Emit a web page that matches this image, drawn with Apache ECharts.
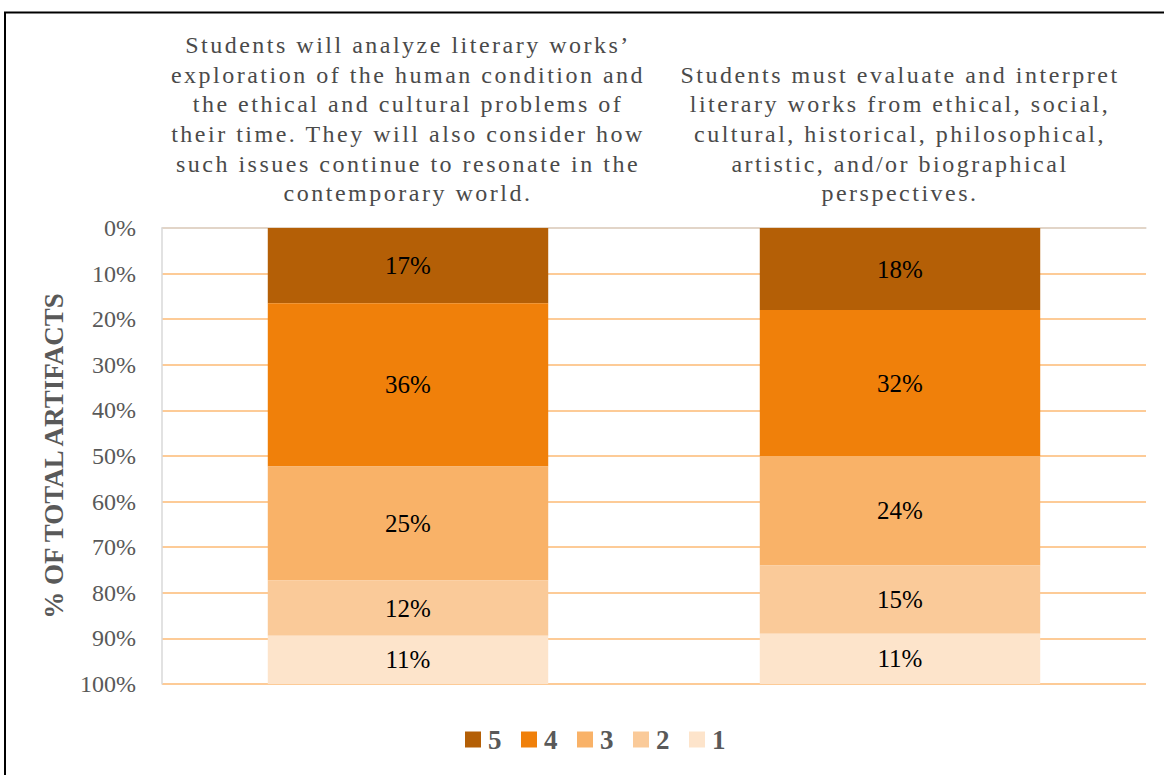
<!DOCTYPE html>
<html><head><meta charset="utf-8">
<script src="https://cdn.jsdelivr.net/npm/echarts@6/dist/echarts.min.js"></script>
<style>
html,body{margin:0;padding:0;background:#fff}
#c{width:1164px;height:775px}
#c text[style*="catfont"]{letter-spacing:2.5px}
</style></head><body><div id="c"></div>
<script>
const categories = [
  "Students will analyze literary works’\nexploration of the human condition and\nthe ethical and cultural problems of\ntheir time. They will also consider how\nsuch issues continue to resonate in the\ncontemporary world.",
  "Students must evaluate and interpret\nliterary works from ethical, social,\ncultural, historical, philosophical,\nartistic, and/or biographical\nperspectives."
];
const seriesNames = ['5', '4', '3', '2', '1'];
const score5 = [16.5, 18];
const score4 = [35.8, 32];
const score3 = [25.0, 24];
const score2 = [12.1, 15];
const score1 = [10.6, 11];
const seriesColors = ['#B45F06', '#F0800A', '#F9B268', '#FACA99', '#FDE4CB'];
const axisTitle = '% OF TOTAL ARTIFACTS';

const allValues = [score5, score4, score3, score2, score1];
const chart = echarts.init(document.getElementById('c'), null, {renderer: 'svg'});
const serif = 'Liberation Serif';
chart.setOption({
  animation: false,
  backgroundColor: '#fff',
  graphic: [{
    type: 'rect', silent: true, z: 100,
    shape: {x: 5, y: 12.5, width: 1300, height: 900},
    style: {fill: 'none', stroke: '#000', lineWidth: 2}
  }],
  legend: {
    bottom: 17, left: 460,
    itemWidth: 16, itemHeight: 16, itemGap: 19.5,
    icon: 'rect',
    data: seriesNames,
    textStyle: {fontFamily: serif, fontWeight: 'bold', fontSize: 27, color: '#595959', padding: [0, 0, 0, 2]}
  },
  grid: {left: 162, right: 18, top: 228, bottom: 91, containLabel: false},
  xAxis: {
    type: 'category', position: 'top', data: categories,
    axisLine: {show: true, lineStyle: {color: '#D9D9D9', width: 1.5}},
    axisTick: {show: false},
    axisLabel: {
      interval: 0, margin: 20,
      fontFamily: serif + ', catfont', fontSize: 24, lineHeight: 29.6,
      color: '#4a4a4a'
    }
  },
  yAxis: {
    type: 'value', inverse: true, min: 0, max: 100, interval: 10,
    name: axisTitle, nameLocation: 'middle', nameGap: 95, nameRotate: 90,
    nameTextStyle: {fontFamily: serif, fontWeight: 'bold', fontSize: 27, color: '#595959'},
    axisLine: {show: true, lineStyle: {color: '#D9D9D9', width: 1.5}},
    axisTick: {show: false},
    axisLabel: {formatter: v => v + '%', fontFamily: serif, fontSize: 24, color: '#595959', margin: 26},
    splitLine: {show: true, lineStyle: {color: '#FDCB97', width: 2}}
  },
  series: seriesNames.map((n, i) => ({
    name: n, type: 'bar', stack: 'total', barWidth: '57%',
    data: allValues[i],
    itemStyle: {color: seriesColors[i]},
    label: {
      show: true, position: 'inside',
      formatter: p => Math.round(p.value) + '%',
      fontFamily: serif, fontSize: 25, color: '#000'
    }
  }))
});
</script></body></html>
